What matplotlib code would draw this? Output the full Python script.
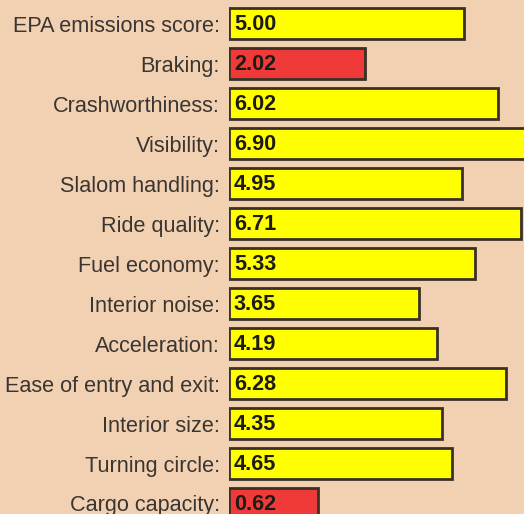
import matplotlib
matplotlib.use("Agg")
import matplotlib.pyplot as plt
import numpy as np

categories = [
    "EPA emissions score:",
    "Braking:",
    "Crashworthiness:",
    "Visibility:",
    "Slalom handling:",
    "Ride quality:",
    "Fuel economy:",
    "Interior noise:",
    "Acceleration:",
    "Ease of entry and exit:",
    "Interior size:",
    "Turning circle:",
    "Cargo capacity:",
]
scores = [5.00, 2.02, 6.02, 6.90, 4.95, 6.71, 5.33, 3.65, 4.19, 6.28, 4.35, 4.65, 0.62]
low_cut = 2.5  # scores below this get the red bar

bg = "#f2d1b3"
base = -2.05

plt.rcParams["font.family"] = ["Liberation Sans", "DejaVu Sans"]

fig = plt.figure(figsize=(5.24, 5.14), dpi=100, facecolor=bg)
ax = fig.add_axes([229 / 524, 0, 1 - 229 / 524, 1])
ax.set_facecolor(bg)

y = np.arange(len(categories))
colors = ["#f03a3a" if s < low_cut else "#ffff00" for s in scores]
ax.barh(y, np.array(scores) - base, left=base, height=0.78, color=colors,
        edgecolor="#3a3026", linewidth=2.0)

for yi, s in zip(y, scores):
    ax.text(base + 0.15, yi + 0.02, f"{s:.2f}", va="center", ha="left",
            fontsize=15.6, fontweight="bold", color="#1e1a14")

px_per_unit = 33.3
ax.set_xlim(base, base + 295 / px_per_unit)
ax.set_ylim((514 - 23.5) / 40, -23.5 / 40)

ax.set_yticks(y)
ax.set_yticklabels(categories, fontsize=15.6, color="#3a3530")
ax.tick_params(axis="y", length=0, pad=6.5)
ax.set_xticks([])
for sp in ax.spines.values():
    sp.set_visible(False)

fig.savefig("out.png", dpi=100, facecolor=bg)
